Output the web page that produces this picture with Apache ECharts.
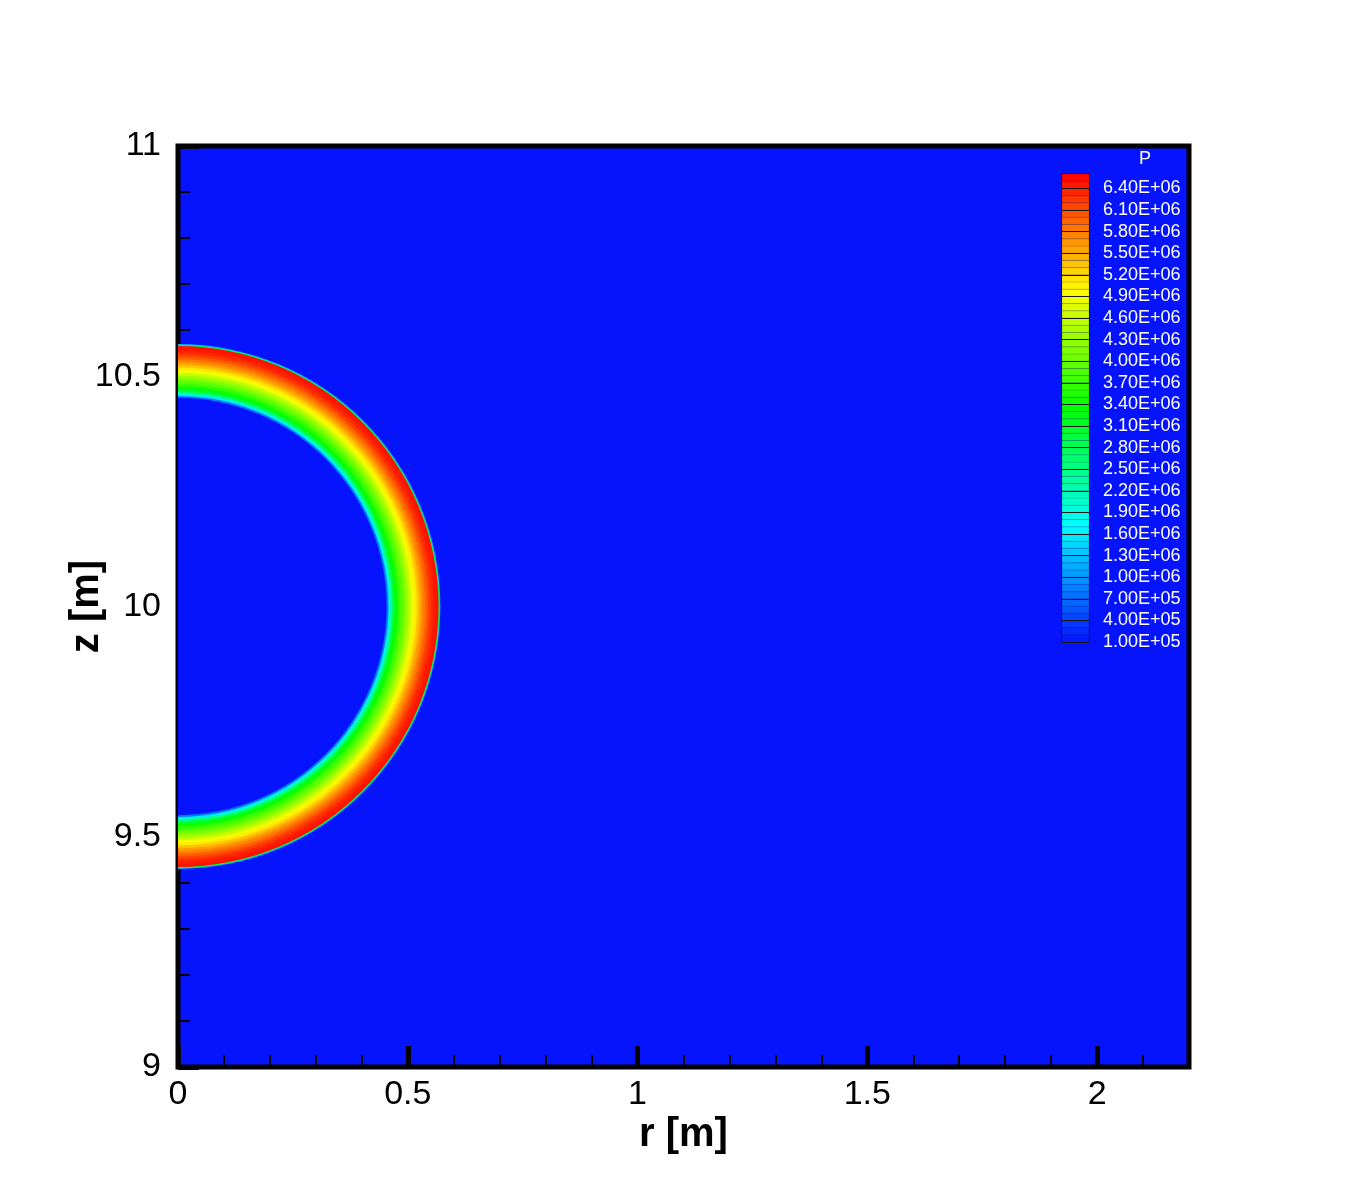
<!DOCTYPE html>
<html>
<head>
<meta charset="utf-8">
<script src="https://cdn.jsdelivr.net/npm/echarts@6/dist/echarts.min.js"></script>
<style>
  html, body { margin: 0; padding: 0; background: #fff; }
  #chart { width: 1354px; height: 1204px; }
</style>
</head>
<body>
<div id="chart"></div>
<script>
// pressure shell around (r=0, z=10): outer radius of each disk (m), drawn big -> small
const ringCenterZ = 10;
const ringRadius = [0.571, 0.569, 0.567, 0.562, 0.556, 0.550, 0.544, 0.538, 0.532, 0.526, 0.520,
  0.514, 0.508, 0.502, 0.496, 0.490, 0.484, 0.478, 0.472, 0.467, 0.462, 0.458, 0.454];
const ringP = [1.2e6, 3.0e6, 6.5e6, 6.45e6, 6.35e6, 6.2e6, 6.0e6, 5.8e6, 5.6e6, 5.35e6, 5.1e6,
  4.9e6, 4.6e6, 4.35e6, 4.1e6, 3.9e6, 3.65e6, 3.4e6, 3.0e6, 2.4e6, 1.6e6, 0.8e6, 1.0e5];

// contour legend levels (Pa)
const labelLevels = [1.0e5, 4.0e5, 7.0e5, 1.0e6, 1.3e6, 1.6e6, 1.9e6, 2.2e6, 2.5e6, 2.8e6, 3.1e6,
  3.4e6, 3.7e6, 4.0e6, 4.3e6, 4.6e6, 4.9e6, 5.2e6, 5.5e6, 5.8e6, 6.1e6, 6.4e6];
const levelMin = 1.0e5;
const levelMax = 6.6e6;
const subStep = 1.0e5;

const xMajor = [0, 0.5, 1, 1.5, 2];

const rainbow = ['#0614fe', '#00ffff', '#00ff00', '#ffff00', '#ff0000'];
const bgBlue = '#0614fe';
const font = 'Liberation Sans, Arial, Helvetica, sans-serif';

const fmtP = v => {
  const e = Math.floor(Math.log10(v) + 1e-9);
  const m = v / Math.pow(10, e);
  return m.toFixed(2) + 'E+' + String(e).padStart(2, '0');
};

// ring data: [outer radius, z of centre, P]
const ringData = ringRadius.map((r, i) => [r, ringCenterZ, ringP[i]]);

// colour bar cells: [lo, hi, mid]
const barData = [];
for (let lo = levelMin; lo < levelMax - 1; lo += subStep) {
  const hi = Math.min(lo + subStep, levelMax);
  barData.push([lo, hi, (lo + hi) / 2]);
}

const chart = echarts.init(document.getElementById('chart'));

const option = {
  animation: false,
  backgroundColor: '#ffffff',
  title: {
    text: 'P',
    left: 1134,
    top: 145,
    textStyle: { color: '#ffffff', fontSize: 18, fontWeight: 'normal', fontFamily: font }
  },
  visualMap: [
    { type: 'continuous', show: false, seriesIndex: 0, dimension: 2, min: levelMin, max: levelMax, inRange: { color: rainbow } },
    { type: 'continuous', show: false, seriesIndex: 1, dimension: 2, min: levelMin, max: levelMax, inRange: { color: rainbow } }
  ],
  grid: [
    {
      left: 178, top: 146, width: 1011, height: 921,
      show: true, backgroundColor: bgBlue, borderColor: '#000', borderWidth: 5,
      outerBoundsMode: 'none'
    },
    {
      left: 1062, top: 174, width: 27, height: 468,
      show: true, borderColor: '#111', borderWidth: 1,
      outerBoundsMode: 'none'
    }
  ],
  xAxis: [
    {
      type: 'value', gridIndex: 0, min: 0, max: 2.2, interval: 0.5, position: 'bottom',
      name: 'r [m]', nameLocation: 'middle', nameGap: 48, nameMoveOverlap: false,
      nameTextStyle: { fontSize: 40, fontWeight: 'bold', color: '#000', fontFamily: font },
      axisLine: { show: true, onZero: false, lineStyle: { color: '#000', width: 4 } },
      axisTick: { show: true, inside: true, length: 21, customValues: xMajor, lineStyle: { color: '#000', width: 5 } },
      axisLabel: { customValues: xMajor, fontSize: 34, color: '#000', margin: 11, fontFamily: font },
      splitLine: { show: false }
    },
    {
      type: 'value', gridIndex: 0, min: 0, max: 2.2, interval: 0.1, position: 'bottom',
      axisLine: { show: false, onZero: false },
      axisTick: { show: true, inside: true, length: 12, lineStyle: { color: '#000', width: 2 } },
      axisLabel: { show: false },
      splitLine: { show: false }
    },
    {
      type: 'value', gridIndex: 1, min: 0, max: 1, show: false
    }
  ],
  yAxis: [
    {
      type: 'value', gridIndex: 0, min: 9, max: 11, interval: 0.5,
      name: 'z [m]', nameLocation: 'middle', nameGap: 71, nameRotate: 90, nameMoveOverlap: false,
      nameTextStyle: { fontSize: 40, fontWeight: 'bold', color: '#000', fontFamily: font },
      axisLine: { show: true, onZero: false, lineStyle: { color: '#000', width: 4 } },
      axisTick: { show: true, inside: true, length: 21, lineStyle: { color: '#000', width: 5 } },
      minorTick: { show: true, splitNumber: 5, length: 12, lineStyle: { color: '#000', width: 2 } },
      axisLabel: { fontSize: 34, color: '#000', margin: 17, fontFamily: font },
      splitLine: { show: false }
    },
    {
      type: 'value', gridIndex: 1, min: levelMin, max: levelMax, position: 'left', z: 5,
      axisLine: { show: false },
      axisTick: { show: true, inside: true, length: 27, customValues: labelLevels, lineStyle: { color: '#1a1a1a', width: 1 } },
      axisLabel: { inside: true, customValues: labelLevels, formatter: fmtP, color: '#ffffff', fontSize: 18, margin: 41, fontFamily: font },
      splitLine: { show: false }
    }
  ],
  series: [
    {
      type: 'custom',
      xAxisIndex: 0,
      yAxisIndex: 0,
      encode: { x: 0, y: 1 },
      renderItem: (params, api) => {
        const c = api.coord([0, api.value(1)]);
        const rr = api.size([api.value(0), 0])[0];
        return {
          type: 'sector',
          shape: { cx: c[0], cy: c[1], r0: 0, r: rr, startAngle: -Math.PI / 2, endAngle: Math.PI / 2 },
          style: { fill: api.visual('color') }
        };
      },
      data: ringData
    },
    {
      type: 'custom',
      xAxisIndex: 2,
      yAxisIndex: 1,
      z: 1,
      encode: { y: [0, 1] },
      renderItem: (params, api) => {
        const p1 = api.coord([0, api.value(1)]);
        const p2 = api.coord([1, api.value(0)]);
        return {
          type: 'rect',
          shape: { x: p1[0], y: p1[1], width: p2[0] - p1[0], height: p2[1] - p1[1] },
          style: { fill: api.visual('color'), stroke: 'rgba(0,0,0,0.12)', lineWidth: 1 }
        };
      },
      data: barData
    }
  ]
};

chart.setOption(option);
</script>
</body>
</html>
